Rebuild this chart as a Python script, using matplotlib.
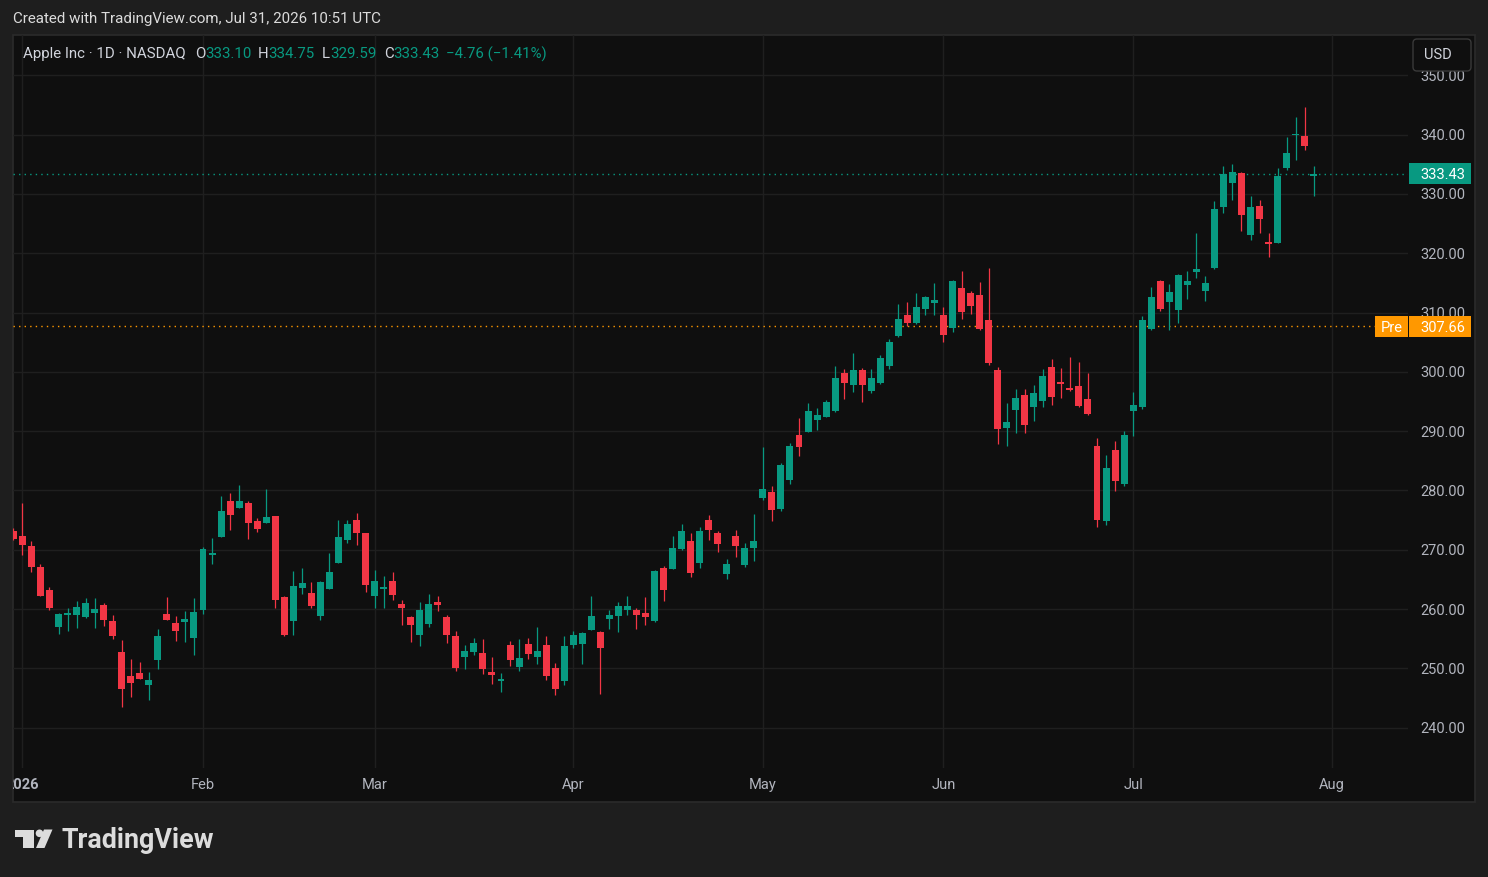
import numpy as np
import pandas as pd
import matplotlib
matplotlib.use("Agg")
import matplotlib.pyplot as plt
from matplotlib.patches import Rectangle, FancyBboxPatch, Circle, Polygon
import matplotlib.transforms as mtransforms

# ---------------- data (Apple Inc, daily, 2025-12-31 .. 2026-07-30) ----------------
start_date = "2025-12-31"
end_calendar = "2026-08-31"
holidays = ["2026-01-01", "2026-01-19", "2026-02-16", "2026-04-03",
            "2026-05-25", "2026-06-19", "2026-07-03"]

opens = [273.15, 272.31, 270.62, 267.08, 263.2, 257.02, 259.05, 259.05, 258.71, 259.38,
         260.67, 257.98, 252.75, 248.7, 249.21, 247.24, 251.46, 259.16, 257.64, 257.86,
         255.17, 259.89, 269.16, 272.2, 278.21, 277.09, 277.87, 274.84, 274.56, 275.68,
         262.02, 258.03, 263.6, 262.7, 258.88, 263.43, 267.81, 271.69, 275.01, 272.81,
         262.25, 263.43, 264.72, 260.84, 258.65, 255.67, 257.53, 261.18, 258.65, 255.45,
         251.96, 252.81, 252.58, 249.38, 247.92, 253.93, 250.28, 254.1, 251.96, 253.93,
         250.05, 247.92, 253.99, 254.16, 256.52, 256.12, 258.37, 258.88, 259.83, 259.83,
         259.33, 258.04, 266.92, 266.81, 270.12, 271.47, 267.82, 275.01, 272.82, 265.96,
         272.31, 267.48, 270.35, 278.78, 279.73, 276.92, 281.81, 289.34, 289.9, 291.93,
         292.43, 293.45, 299.8, 297.83, 300.3, 296.76, 298.11, 300.98, 306.04, 309.58,
         308.23, 310.59, 311.6, 309.58, 307.39, 314.13, 313.29, 312.95, 308.73, 300.3,
         290.53, 293.56, 296.09, 294.07, 295.08, 300.81, 298.11, 297.27, 297.61, 295.41,
         287.49, 274.91, 286.82, 281.14, 293.45, 294.13, 307.28, 315.31, 311.83, 310.48,
         314.7, 316.83, 313.68, 317.56, 327.85, 331.89, 333.52, 323.13, 327.96, 321.72,
         321.78, 334.42, 339.93, 339.76, 333.10]
highs = [273.66, 277.87, 271.47, 267.59, 263.71, 259.38, 260.17, 261.35, 261.86, 261.86,
         261.01, 258.99, 254.77, 251.57, 251.06, 249.38, 256.63, 262.02, 258.82, 259.66,
         261.86, 270.45, 271.97, 279.05, 279.56, 280.91, 278.21, 275.34, 280.23, 275.7,
         262.2, 266.41, 266.91, 264.55, 264.72, 269.44, 275.01, 275.01, 276.19, 272.9,
         266.58, 265.56, 266.24, 261.52, 258.82, 261.18, 262.53, 262.19, 258.99, 256.29,
         253.93, 255.11, 254.94, 251.91, 249.21, 254.61, 254.94, 255.11, 256.97, 255.45,
         250.9, 255.45, 256.29, 256.12, 262.19, 256.29, 259.83, 261.18, 262.19, 260.17,
         262.02, 266.58, 267.26, 272.31, 274.34, 272.82, 273.83, 275.85, 273.16, 268.44,
         273.33, 271.13, 276.02, 287.32, 280.74, 284.62, 287.99, 292.21, 294.74, 293.9,
         295.24, 300.98, 300.47, 303.17, 300.64, 300.47, 302.83, 305.53, 311.43, 311.77,
         313.29, 312.78, 314.97, 310.93, 315.48, 317.0, 313.62, 315.14, 317.5, 300.81,
         294.74, 297.1, 297.1, 297.77, 300.47, 302.16, 300.64, 302.5, 301.65, 299.8,
         288.84, 285.98, 288.34, 290.02, 296.6, 309.41, 314.3, 315.48, 314.81, 316.49,
         317.0, 323.41, 316.16, 328.8, 334.7, 335.04, 333.69, 329.64, 328.97, 323.41,
         334.37, 339.59, 342.96, 344.65, 334.75]
lows = [271.6, 269.16, 266.29, 262.2, 259.83, 255.79, 256.35, 256.85, 258.54, 256.85,
        257.19, 255.0, 243.53, 245.22, 248.2, 244.71, 249.94, 258.1, 254.66, 254.49,
        252.3, 259.21, 267.64, 272.1, 273.38, 277.0, 271.86, 273.04, 274.5, 260.23,
        255.5, 255.67, 262.59, 260.23, 258.2, 263.3, 267.7, 271.18, 270.85, 262.92,
        260.23, 260.23, 261.57, 257.36, 254.49, 253.82, 257.02, 259.72, 254.32, 249.6,
        249.94, 252.3, 249.1, 247.41, 246.06, 250.45, 249.6, 251.63, 250.78, 248.09,
        245.56, 247.24, 253.48, 250.78, 256.4, 245.73, 256.63, 256.18, 258.99, 256.63,
        257.36, 257.87, 261.41, 266.7, 270.0, 265.46, 266.98, 271.7, 269.67, 265.12,
        268.83, 267.14, 268.16, 278.44, 274.9, 276.59, 281.14, 285.86, 289.8, 290.24,
        292.3, 293.3, 295.47, 296.65, 294.96, 296.43, 298.0, 300.47, 305.87, 307.72,
        308.1, 309.58, 309.58, 305.02, 306.71, 308.9, 309.75, 307.1, 301.15, 287.83,
        287.49, 289.68, 289.68, 291.71, 294.07, 294.4, 295.58, 296.76, 294.1, 292.8,
        273.89, 274.23, 279.96, 280.81, 289.24, 293.79, 307.11, 310.31, 307.11, 308.29,
        312.33, 315.88, 312.0, 317.39, 326.83, 329.03, 323.8, 322.28, 323.46, 319.42,
        321.7, 334.08, 335.71, 337.46, 329.59]
closes = [271.86, 270.85, 267.14, 262.25, 260.23, 259.16, 259.33, 260.34, 261.01, 260.0,
          258.2, 255.5, 246.57, 247.58, 248.25, 248.03, 255.45, 258.2, 256.35, 258.31,
          259.49, 270.12, 269.44, 276.52, 275.91, 278.21, 274.56, 273.54, 275.51, 261.57,
          255.67, 263.88, 264.38, 260.56, 264.55, 266.24, 272.14, 274.33, 272.87, 264.05,
          264.72, 263.71, 262.42, 260.23, 257.36, 259.83, 260.84, 260.67, 255.67, 250.11,
          252.92, 254.27, 249.94, 248.93, 248.09, 251.46, 251.68, 252.47, 252.92, 248.76,
          246.57, 253.76, 255.62, 255.95, 258.82, 253.48, 258.99, 260.51, 260.51, 259.05,
          258.71, 266.41, 263.27, 270.29, 273.16, 266.13, 273.16, 273.38, 271.02, 267.59,
          270.68, 270.29, 271.47, 280.24, 276.75, 284.28, 287.49, 287.38, 293.39, 292.71,
          294.91, 298.95, 298.17, 300.3, 297.83, 298.96, 302.33, 305.02, 308.9, 308.23,
          310.93, 312.61, 312.11, 306.2, 315.31, 310.08, 311.09, 307.22, 301.48, 290.36,
          291.54, 295.58, 291.03, 296.43, 299.29, 295.75, 298.0, 296.99, 294.23, 292.89,
          275.07, 283.79, 281.65, 289.35, 294.41, 308.74, 312.62, 310.65, 313.46, 316.32,
          315.31, 317.34, 314.98, 327.45, 333.35, 333.69, 326.5, 327.79, 325.82, 321.61,
          333.02, 336.89, 340.1, 338.13, 333.43]

price_ticks = [240, 250, 260, 270, 280, 290, 300, 310, 320, 330, 340, 350]
month_labels = ["2026", "Feb", "Mar", "Apr", "May", "Jun", "Jul", "Aug"]
last_close = 333.43
pre_price = 307.66
change_text = "\u22124.76 (\u22121.41%)"
title_text = "Created with TradingView.com, Jul 31, 2026 10:51 UTC"

# ---------------- style ----------------
GREEN = "#089981"
RED = "#f23645"
ORANGE = "#ff9800"
OUTER = "#1e1e1e"
INNER = "#0f0f0f"
GRID = "#1f1f1f"
AXTXT = "#b2b5be"
FONT = ["Roboto", "DejaVu Sans"]
plt.rcParams["font.family"] = FONT

W, H = 1488, 877
fig = plt.figure(figsize=(W / 100, H / 100), dpi=100)
fig.patch.set_facecolor(OUTER)
PIX = mtransforms.IdentityTransform()


def fx(px):
    return px / W


def fy(py):
    return 1 - py / H


# chart frame
frame = Rectangle((12.5, H - 802), 1475 - 12.5, 802 - 34.5, transform=PIX,
                  facecolor=INNER, edgecolor="#2b2b2b", lw=1.2, zorder=-2)
fig.add_artist(frame)

# trading calendar
all_days = pd.bdate_range(start_date, end_calendar)
all_days = all_days[~all_days.isin(pd.to_datetime(holidays))]
pos_series = pd.Series(np.arange(len(all_days)), index=all_days)
firsts = pos_series.groupby([all_days.year, all_days.month]).min()
tick_pos = [int(firsts[(2026, m)]) for m in range(1, 9)]

o = np.array(opens)
h = np.array(highs)
l = np.array(lows)
c = np.array(closes)
x = np.arange(len(c))

ax = fig.add_axes([fx(13), fy(768), fx(1408) - fx(13), (768 - 35) / H])
ax.set_facecolor("none")
ax.set_xlim(-0.04, 154.44)
ax.set_ylim(233.19, 356.8)
ax.axis("off")

for p in price_ticks:
    ax.axhline(p, color=GRID, lw=1.0, zorder=0)
for t in tick_pos:
    ax.axvline(t, color=GRID, lw=1.0, zorder=0)

up = c >= o
cols = np.where(up, GREEN, RED)
ax.vlines(x, l, h, colors=cols, lw=0.9, zorder=2)
body_bottom = np.minimum(o, c)
body_h = np.maximum(np.abs(c - o), 0.2)
ax.bar(x, body_h, bottom=body_bottom, width=0.77, color=cols, lw=0, zorder=3)

ax.axhline(last_close, color=GREEN, lw=1.0, ls=(0, (1, 3)), zorder=1)
ax.axhline(pre_price, color=ORANGE, lw=1.0, ls=(0, (1, 3)), zorder=1)

# price axis labels
ytr = mtransforms.blended_transform_factory(fig.transFigure, ax.transData)
for p in price_ticks:
    fig.text(fx(1465), p, f"{p:.2f}", transform=ytr, ha="right", va="center_baseline",
             color=AXTXT, fontsize=10.5, zorder=4)


def ydisp(v):
    return ax.transData.transform((0, v))[1]


# last price label
yl = ydisp(last_close)
fig.add_artist(Rectangle((1409, yl - 10.5), 62, 21, transform=PIX, facecolor=GREEN,
                         edgecolor="none", zorder=6))
fig.text(1465 / W, yl / H, f"{last_close:.2f}", ha="right", va="center_baseline",
         color="white", fontsize=10.5, zorder=7)

# pre-market label
yp = ydisp(pre_price)
fig.add_artist(Rectangle((1409, yp - 10.5), 62, 21, transform=PIX, facecolor=ORANGE,
                         edgecolor="none", zorder=6))
fig.add_artist(Rectangle((1375, yp - 10.5), 33, 21, transform=PIX, facecolor=ORANGE,
                         edgecolor="none", zorder=6))
fig.text(1465 / W, yp / H, f"{pre_price:.2f}", ha="right", va="center_baseline",
         color="white", fontsize=10.5, zorder=7)
fig.text(1391.5 / W, yp / H, "Pre", ha="center", va="center_baseline",
         color="white", fontsize=10.5, zorder=7)

# USD button
fig.add_artist(FancyBboxPatch((1413, H - 71), 58, 32, boxstyle="round,pad=0,rounding_size=4",
                              transform=PIX, facecolor=INNER, edgecolor="#3a3a3a",
                              lw=1.0, zorder=6))
fig.text(1437.5 / W, fy(55), "USD", ha="center", va="center", color="#d1d4dc",
         fontsize=10.5, zorder=7)

# time axis labels
xtr = mtransforms.blended_transform_factory(ax.transData, fig.transFigure)
for t, lab in zip(tick_pos, month_labels):
    txt = fig.text(t, fy(785), lab, transform=xtr, ha="center", va="center",
                   color=AXTXT, fontsize=10.5,
                   fontweight="bold" if lab.isdigit() else "normal")
    txt.set_clip_path(frame)
    txt.set_clip_on(True)

# header
fig.text(fx(13), fy(19), title_text, ha="left", va="center", color="#dbdbdb",
         fontsize=10.9)
hy = fy(54)
fig.text(fx(23), hy, "Apple Inc · 1D · NASDAQ", ha="left", va="center",
         color="#d1d4dc", fontsize=10.8)
pieces = [(195, "O", "#d1d4dc"), (205, f"{opens[-1]:.2f}", GREEN),
          (258, "H", "#d1d4dc"), (268, f"{highs[-1]:.2f}", GREEN),
          (322, "L", "#d1d4dc"), (330, f"{lows[-1]:.2f}", GREEN),
          (384, "C", "#d1d4dc"), (393, f"{closes[-1]:.2f}", GREEN),
          (446, change_text, GREEN)]
for px_, s, col in pieces:
    fig.text(fx(px_), hy, s, ha="left", va="center", color=col, fontsize=10.8)

# TradingView logo
LOGO = "#dcdcdc"
fig.add_artist(Polygon([(15, H - 829.5), (34, H - 829.5), (34, H - 848), (23, H - 848),
                        (23, H - 837), (15, H - 837)], closed=True, transform=PIX,
                       facecolor=LOGO, edgecolor="none"))
fig.add_artist(Circle((39.5, H - 833.3), 3.8, transform=PIX, facecolor=LOGO,
                      edgecolor="none"))
fig.add_artist(Polygon([(44, H - 829.5), (52.5, H - 829.5), (44.5, H - 848),
                        (36, H - 848)], closed=True, transform=PIX,
                       facecolor=LOGO, edgecolor="none"))
fig.text(fx(61), fy(848), "TradingView", ha="left", va="baseline", color=LOGO,
         fontsize=19.4, fontweight="bold")

fig.savefig("out.png", dpi=100, facecolor=OUTER)
